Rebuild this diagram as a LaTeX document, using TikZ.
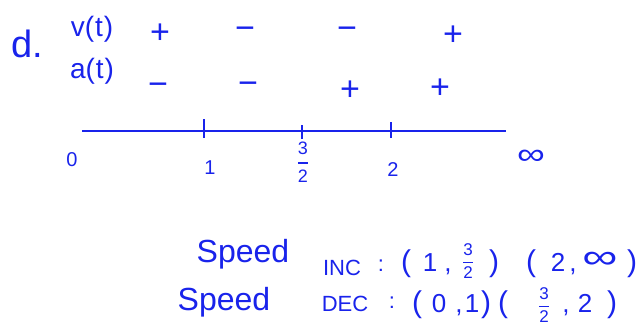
\documentclass[tikz,border=0pt]{standalone}
\usepackage{amsmath}
\usepackage{fontspec}
\setmainfont{Liberation Sans}
\definecolor{ink}{RGB}{25,35,235}
\newcommand{\hfr}[3][16]{\ensuremath{\genfrac{}{}{1.2pt}{0}{\hbox{\fontsize{#1}{#1}\selectfont #2}}{\hbox{\fontsize{#1}{#1}\selectfont #3}}}}
\begin{document}
\begin{tikzpicture}[x=1pt,y=-1pt,
  txt/.style={inner sep=0pt,text=ink,font=\fontsize{28}{30}\selectfont},
  sgn/.style={inner sep=0pt,text=ink,font=\fontsize{34}{36}\selectfont},
  num/.style={inner sep=0pt,text=ink,font=\fontsize{20}{22}\selectfont},
  big/.style={inner sep=0pt,text=ink,font=\fontsize{32}{34}\selectfont},
  mid/.style={inner sep=0pt,text=ink,font=\fontsize{22}{24}\selectfont},
  tok/.style={inner sep=0pt,text=ink,anchor=base,font=\fontsize{26}{28}\selectfont},
  par/.style={inner sep=0pt,text=ink,anchor=base,font=\fontsize{30}{32}\selectfont},
  frc/.style={inner sep=0pt,text=ink,font=\fontsize{17}{17}\selectfont},
  axis/.style={draw=ink,line width=2.4pt},
  tick/.style={draw=ink,line width=2pt}]
\useasboundingbox (0,0) rectangle (643,330);
\node[txt,font=\fontsize{38}{40}\selectfont] (d) at (27,44) {d.};
\node[txt] (v) at (92,29) {v(\hspace{1pt}t\hspace{1pt})};
\node[txt] (a) at (92,71) {a(\hspace{1pt}t\hspace{1pt})};
\node[sgn] (v1) at (160,34) {+};
\node[sgn] (v2) at (245,33) {\textminus};
\node[sgn] (v3) at (347,33) {\textminus};
\node[sgn] (v4) at (453,36) {+};
\node[sgn] (a1) at (158,89) {\textminus};
\node[sgn] (a2) at (248,88) {\textminus};
\node[sgn] (a3) at (350,91) {+};
\node[sgn] (a4) at (440,89) {+};
\coordinate (L) at (82,131);
\coordinate (R) at (506,131);
\draw[axis] (L) -- (R);
\coordinate (t1) at (204,131);
\coordinate (t2) at (302,131);
\coordinate (t3) at (391,131);
\draw[tick] ([yshift=-7]t1) -- ([yshift=12]t1);
\draw[tick] ([yshift=-8]t2) -- ([yshift=6]t2);
\draw[tick] ([yshift=-7]t3) -- ([yshift=9]t3);
\node[num] (n0) at (72,160) {0};
\node[num] (n1) at (210,168) {1};
\node[num] (n32) at (303,162) {\hfr[18]{3}{2}};
\node[num] (n2) at (393,170) {2};
\node[txt,font=\fontsize{30}{32}\selectfont] (ninf) at (531,157) {\scalebox{1.3}[1]{∞}};
% row 1
\node[big] (s1) at (243,254) {Speed};
\node[mid] (inc) at (342,268) {INC};
\node[mid] (c1) at (381,266) {:};
\node[par] (p1) at (406,271) {(};
\node[tok] (r1a) at (430,271) {1};
\node[tok] (r1b) at (448,271) {,};
\node[frc] (r1c) at (468,261) {\hfr[17]{3}{2}};
\node[par] (p2) at (494,271) {)};
\node[par] (p3) at (531,271) {(};
\node[tok] (r1d) at (558,271) {2};
\node[tok] (r1e) at (573,271) {,};
\node[tok,font=\fontsize{34}{34}\selectfont] (r1f) at (600,268) {\scalebox{1.45}[1]{∞}};
\node[par] (p4) at (632,271) {)};
% row 2
\node[big] (s2) at (224,302) {Speed};
\node[mid] (dec) at (345,304) {DEC};
\node[mid] (c2) at (392,303) {:};
\node[par] (p5) at (417,312) {(};
\node[tok] (r2a) at (439,312) {0};
\node[tok] (r2b) at (459,312) {,};
\node[tok] (r2c) at (472,312) {1};
\node[par] (p6) at (486,312) {)};
\node[par] (p7) at (503,312) {(};
\node[frc] (r2d) at (544,305) {\hfr[17]{3}{2}};
\node[tok] (r2e) at (566,312) {,};
\node[tok] (r2f) at (585,312) {2};
\node[par] (p8) at (612,312) {)};
\end{tikzpicture}
\end{document}
